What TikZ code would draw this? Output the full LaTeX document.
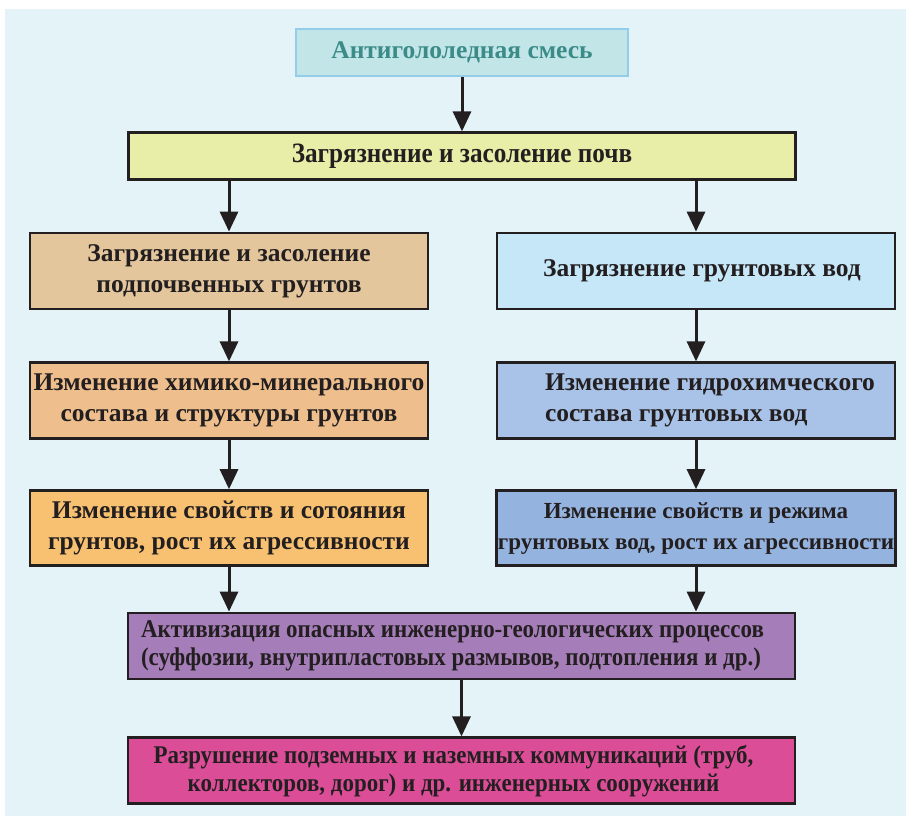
\documentclass[tikz,border=0pt]{standalone}
\usepackage{fontspec}
\setmainfont{Liberation Serif}
\newfontfamily\narrowfont[FakeStretch=0.9]{Liberation Serif}
\usetikzlibrary{positioning,arrows.meta}

\definecolor{bgblue}{HTML}{E3F3F8}
\definecolor{mixfill}{HTML}{C2E5E8}
\definecolor{mixline}{HTML}{94CDE9}
\definecolor{mixtext}{HTML}{3B8C88}
\definecolor{soilfill}{HTML}{E8EEA8}
\definecolor{groundA}{HTML}{E4C69C}
\definecolor{groundB}{HTML}{EEBF8D}
\definecolor{groundC}{HTML}{F7C171}
\definecolor{waterA}{HTML}{C6E7F8}
\definecolor{waterB}{HTML}{A8C3E7}
\definecolor{waterC}{HTML}{95B3DF}
\definecolor{procfill}{HTML}{A57DB8}
\definecolor{ruinfill}{HTML}{DB4D97}
\definecolor{inktext}{HTML}{231F20}

\tikzset{
  box/.style={draw=inktext, line width=2.8pt, rectangle, inner sep=1pt,
    text=inktext, align=center, font=\fontsize{25.5}{31}\selectfont\bfseries},
  colbox/.style={box, minimum width=398pt, minimum height=76pt},
  widebox/.style={box, minimum width=667pt, minimum height=66pt,
    font=\narrowfont\fontsize{25.5}{28}\selectfont\bfseries},
  flow/.style={-{Triangle[width=18pt,length=20pt]}, line width=3pt, draw=inktext}
}

\begin{document}
\begin{tikzpicture}[x=1pt, y=-1pt, node distance=52pt]
  \fill[white] (0,0) rectangle (906,816);
  \fill[bgblue] (5,9) rectangle (906,816);

  \node (mix) [box, draw=mixline, fill=mixfill, text=mixtext, minimum width=332pt,
    minimum height=47pt] at (462,52.5) {Антигололедная смесь};
  \node (soil) [box, fill=soilfill, minimum width=667pt, minimum height=47pt,
    font=\narrowfont\fontsize{28}{30}\selectfont\bfseries, below=54pt of mix] {Загрязнение и засоление почв};

  \node (l1) [colbox, fill=groundA] at (229,271) {Загрязнение и засоление\\подпочвенных грунтов};
  \node (l2) [colbox, fill=groundB, below=51pt of l1] {Изменение химико-минерального\\состава и структуры грунтов};
  \node (l3) [colbox, fill=groundC, minimum height=75pt, below=49pt of l2] {Изменение свойств и сотояния\\грунтов, рост их агрессивности};

  \node (r1) [colbox, fill=waterA] at (696,271) {\hspace*{12pt}Загрязнение грунтовых вод};
  \node (r2) [colbox, fill=waterB, align=left, below=51pt of r1] {\hspace*{28pt}Изменение гидрохимческого\\\hspace*{28pt}состава грунтовых вод};
  \node (r3) [colbox, fill=waterC, minimum height=75pt, below=49pt of r2,
    font=\fontsize{23}{31}\selectfont\bfseries] {Изменение свойств и режима\\грунтовых вод, рост их агрессивности};

  \node (proc) [widebox, fill=procfill, align=left] at (461.5,646) {Активизация опасных инженерно-геологических процессов\hspace*{18pt}\\(суффозии, внутрипластовых размывов, подтопления и др.)};
  \node (ruin) [widebox, fill=ruinfill, below=56pt of proc] {Разрушение подземных и наземных коммуникаций (труб,\hspace*{16pt}\\коллекторов, дорог) и др. инженерных сооружений\hspace*{16pt}};

  \draw[flow] (mix) -- (soil);
  \draw[flow] (soil.south -| l1.north) -- (l1.north);
  \draw[flow] (soil.south -| r1.north) -- (r1.north);
  \draw[flow] (l1) -- (l2);
  \draw[flow] (l2) -- (l3);
  \draw[flow] (r1) -- (r2);
  \draw[flow] (r2) -- (r3);
  \draw[flow] (l3.south) -- (l3.south |- proc.north);
  \draw[flow] (r3.south) -- (r3.south |- proc.north);
  \draw[flow] (proc) -- (ruin);
\end{tikzpicture}
\end{document}
